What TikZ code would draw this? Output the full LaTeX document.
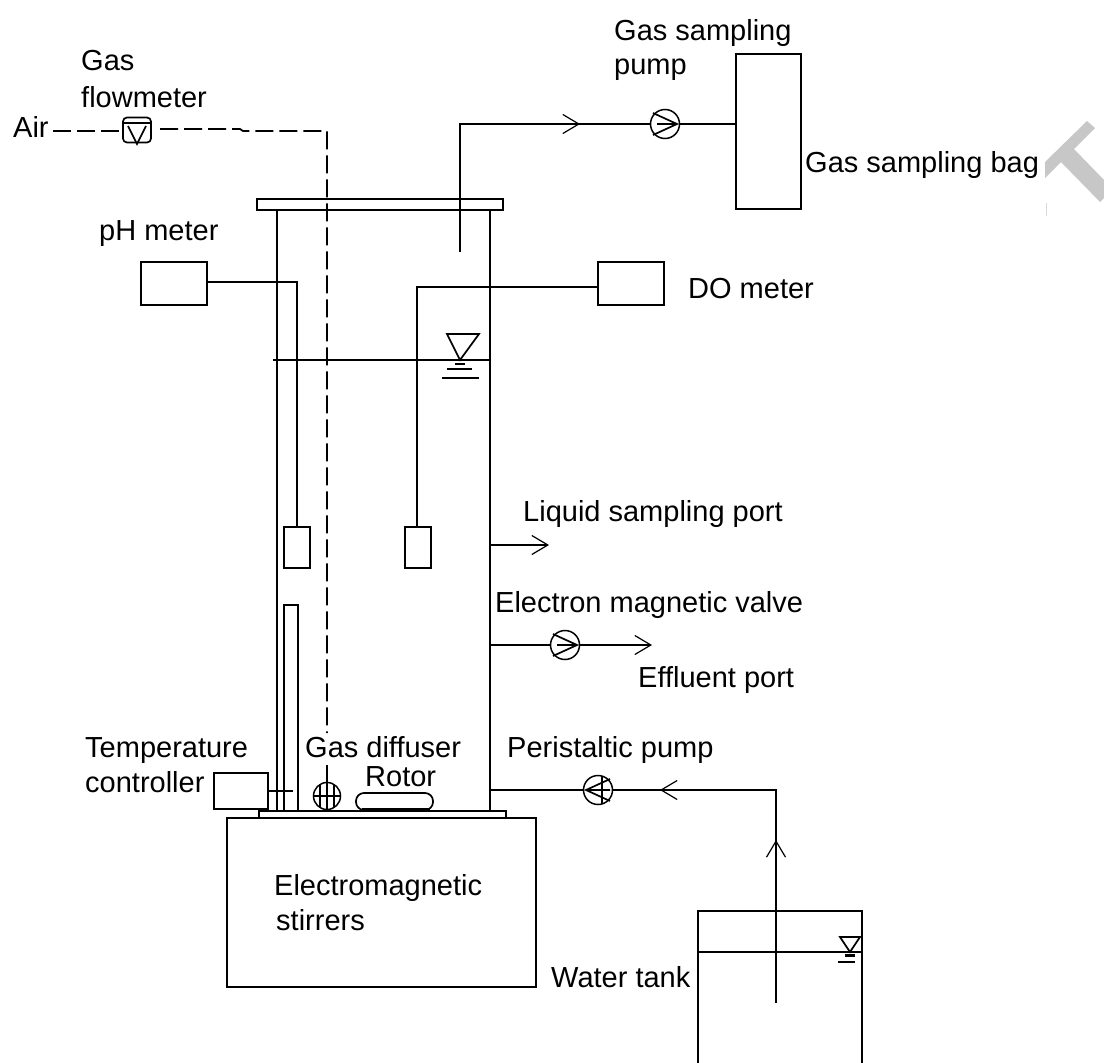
\documentclass[tikz,border=0pt]{standalone}
\usepackage{fontspec}
\setmainfont{Liberation Sans}
\usetikzlibrary{arrows.meta, positioning, calc}
\tikzset{
  pipe/.style={line width=1.7pt},
  gasline/.style={line width=1.7pt, dash pattern=on 18pt off 6pt},
  opentip/.style={-{Straight Barb[length=16pt,width=19pt,line width=1.2pt]}},
  box/.style={draw, line width=1.7pt, rectangle, inner sep=0pt, outer sep=0pt, anchor=north west},
  pumpsym/.style={draw, circle, line width=1.5pt, fill=white, minimum size=29pt, inner sep=0pt},
  lbl/.style={inner sep=0pt, anchor=base west, align=left, font=\fontsize{29}{34}\selectfont}
}
\begin{document}
\begin{tikzpicture}[x=1pt, y=-1pt]
  \useasboundingbox (0,0) rectangle (1104,1063);
  % reactor column
  \node[box, minimum width=246pt, minimum height=11pt] (lid) at (257,199) {};
  \coordinate (wallTL) at (277,210);
  \coordinate (wallTR) at (490,210);
  \coordinate (wallBL) at (277,811);
  \coordinate (wallBR) at (490,811);
  \draw[pipe] (wallTL) -- (wallBL);
  \draw[pipe] (wallTR) -- (wallBR);
  \node[box, minimum width=247pt, minimum height=7pt] (base) at (259,811) {};
  \node[box, minimum width=309pt, minimum height=169pt] (stirrer) at (227,818) {};
  \node[lbl] (stirrerlabel) at (274,895) {Electromagnetic};
  \node[lbl] (stirrerlabel2) at (276,930) {stirrers};
  % water level in the column
  \coordinate (levelL) at (273,360);
  \coordinate (levelR) at (490,360);
  \draw[pipe] (levelL) -- (levelR);
  \draw[pipe] (447,334) -- (479,334) -- (460,360) -- cycle;
  \draw[pipe] (455,364) -- (465,364) (447,369) -- (472,369) (442,378) -- (479,378);
  % gas line
  \node[lbl] (airlabel) at (13,137) {Air};
  \node[lbl] (gaslabel) at (81,70) {Gas};
  \node[lbl] (flowlabel) at (81,107) {flowmeter};
  \node[draw, line width=1.7pt, rounded corners=4pt, minimum width=28pt, minimum height=25pt, inner sep=0pt] (flowmeter) at (137,130) {};
  \draw[pipe] (123,123) -- (151,123) (128,126) -- (137,144) -- (146,126);
  \coordinate (airstart) at (53,131);
  \coordinate (gasjog) at (160,129);
  \coordinate (gascorner) at (327,131);
  \coordinate (gasgapA) at (327,733);
  \coordinate (gasgapB) at (327,765);
  \draw[gasline] (airstart) -- (flowmeter.west |- airstart);
  \draw[gasline] (gasjog) -- (240,129) -- (243,131) -- (gascorner) -- (gasgapA);
  \draw[pipe] (gasgapB) -- (327,783);
  % gas diffuser and rotor
  \node[pumpsym, minimum size=27pt] (diffuser) at (327,796) {};
  \draw[pipe] (diffuser.north) -- (diffuser.south) (diffuser.west) -- (diffuser.east)
    (320,784) -- (320,808) (334,784) -- (334,808);
  \node[draw, line width=1.7pt, rounded corners=8pt, minimum width=77pt, minimum height=17pt, inner sep=0pt] (rotor) at (394.5,801.5) {};
  \draw[line width=3pt] (362,809) -- (430,809);
  \node[lbl] (diffuserlabel) at (305,757) {Gas diffuser};
  \node[lbl] (rotorlabel) at (365,786) {Rotor};
  % gas sampling
  \node[box, minimum width=65pt, minimum height=155pt] (bag) at (736,54) {};
  \node[lbl] (bagsamplabel) at (805,172) {Gas sampling bag};
  \node[lbl] (samplabel) at (614,40) {Gas sampling};
  \node[lbl] (pumplabel) at (614,74) {pump};
  \node[pumpsym] (samplepump) at (665,124) {};
  \draw[pipe] (653,113) -- (677,124) -- (653,135) (657,124) -- (677,124);
  \coordinate (sampleend) at (460,252);
  \coordinate (samplecorner) at (460,124);
  \draw[pipe] (sampleend) -- (samplecorner) -- (samplepump.west);
  \draw[pipe] (samplepump.east) -- (bag.west |- samplepump.east);
  \draw[opentip, pipe] (559,124) -- (580,124);
  % pH meter
  \node[lbl] (phlabel) at (99,240) {pH meter};
  \node[box, minimum width=66pt, minimum height=43pt] (phmeter) at (141,262) {};
  \node[box, minimum width=26pt, minimum height=41pt] (phprobe) at (284,527) {};
  \draw[pipe] (phmeter.east |- 0,282) -- (297,282) -- (phprobe.north -| 297,0);
  % DO meter
  \node[box, minimum width=66pt, minimum height=43pt] (dometer) at (598,262) {};
  \node[lbl] (dolabel) at (688,298) {DO meter};
  \node[box, minimum width=26pt, minimum height=41pt] (doprobe) at (405,527) {};
  \draw[pipe] (dometer.west |- 0,287) -- (417,287) -- (doprobe.north -| 417,0);
  % thermometer and controller
  \node[box, minimum width=14pt, minimum height=206pt] (thermo) at (284,605) {};
  \node[box, minimum width=54pt, minimum height=36pt] (controller) at (214,773) {};
  \draw[pipe] (controller.east |- 0,791) -- (293,791);
  \node[lbl] (templabel) at (85,757) {Temperature};
  \node[lbl] (ctrllabel) at (85,792) {controller};
  % liquid ports
  \node[lbl] (liquidlabel) at (523,521) {Liquid sampling port};
  \coordinate (liquidport) at (549,545);
  \draw[opentip, pipe] (wallTR |- liquidport) -- (liquidport);
  \node[lbl] (valvelabel) at (495,612) {Electron magnetic valve};
  \node[pumpsym] (valve) at (565,645) {};
  \draw[pipe] (553,634) -- (577,645) -- (553,656) (557,645) -- (577,645);
  \coordinate (effluent) at (652,645);
  \draw[pipe] (wallTR |- valve) -- (valve.west);
  \draw[opentip, pipe] (valve.east) -- (effluent);
  \node[lbl] (effluentlabel) at (638,687) {Effluent port};
  % feed line
  \node[lbl] (peristlabel) at (507,757) {Peristaltic pump};
  \node[pumpsym] (peristaltic) at (598,790) {};
  \draw[pipe] (610,779) -- (586,790) -- (610,801) (586,790) -- (610,790) (602,776) -- (602,804);
  \coordinate (feedend) at (776,1003);
  \coordinate (feedcorner) at (776,790);
  \draw[pipe] (feedend) -- (feedcorner) -- (peristaltic.east);
  \draw[pipe] (peristaltic.west) -- (wallTR |- peristaltic);
  \draw[opentip, pipe] (681,790) -- (660,790);
  \draw[opentip, pipe] (776,861) -- (776,840);
  % water tank
  \node[lbl] (tanklabel) at (551,987) {Water tank};
  \coordinate (tankBL) at (698,1063);
  \coordinate (tankBR) at (862,1063);
  \draw[pipe] (tankBL) -- (698,911) -- (862,911) -- (tankBR);
  \draw[pipe] (698,952) -- (862,952);
  \draw[pipe] (840,937) -- (860,937) -- (850,952) -- cycle;
  \draw[line width=3pt] (845,955) -- (855,955);
  \draw[pipe] (838,962) -- (855,962);
  % mark at the edge
  \fill[black!22] (1045,162) -- (1087,121) -- (1095,128) -- (1074,149) -- (1104,180) -- (1104,198)
    -- (1100,202) -- (1061,162) -- (1045,178) -- cycle;
  \draw[black!15, line width=1pt] (1046,203) -- (1046,216);
\end{tikzpicture}
\end{document}
